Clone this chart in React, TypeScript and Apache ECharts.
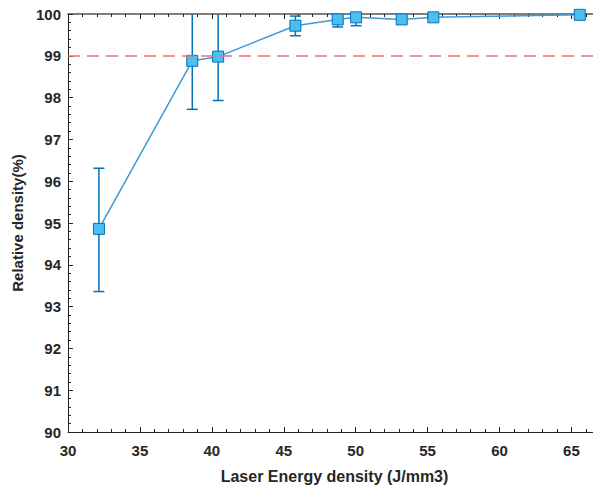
import React, { useEffect, useRef } from "react";
import * as echarts from "echarts";

const energy = [32.15, 38.64, 40.44, 45.81, 48.75, 50.03, 53.2, 55.4, 65.58];
const density = [94.86, 98.88, 98.98, 99.72, 99.87, 99.92, 99.87, 99.92, 99.98];
const lowerErr = [93.36, 97.72, 97.93, 99.48, 99.69, 99.72, 99.82, 99.87, 99.96];
const upperErr = [96.31, 100.04, 100.03, 99.95, 100.05, 100.1, 99.92, 99.97, 100.0];
const threshold = 99;

const xTitle = "Laser Energy density (J/mm3)";
const yTitle = "Relative density(%)";

const textColor = "#262626";
const font = "'Liberation Sans', Arial, Helvetica, sans-serif";

export default function App() {
  const ref = useRef<HTMLDivElement>(null);
  useEffect(() => {
    if (!ref.current) return;
    const chart = echarts.init(ref.current, null, { renderer: "svg" });
    const errData = energy.map((x, i) => [x, lowerErr[i], upperErr[i]]);
    const option = {
      animation: false,
      backgroundColor: "#ffffff",
      grid: { left: 68, top: 14, right: 0, bottom: 55, containLabel: false },
      xAxis: [
        {
          type: "value",
          min: 30,
          max: 66.5,
          interval: 5,
          position: "bottom",
          name: xTitle,
          nameLocation: "middle",
          nameGap: 36,
          nameTextStyle: { fontFamily: font, fontWeight: "bold", fontSize: 16, color: textColor, padding: [0, 0, 0, 8] },
          axisLine: { show: true, onZero: false, lineStyle: { color: textColor, width: 1 } },
          axisTick: { show: true, inside: true, length: 5, lineStyle: { color: textColor } },
          minorTick: { show: true, splitNumber: 5, length: 3, lineStyle: { color: textColor } },
          axisLabel: {
            fontFamily: font, fontWeight: "bold", fontSize: 15, color: textColor, margin: 11,
            showMaxLabel: false,
          },
          splitLine: { show: false },
        },
        {
          type: "value",
          min: 30,
          max: 66.5,
          interval: 5,
          position: "top",
          axisLine: { show: true, onZero: false, lineStyle: { color: "#555", width: 1.5 } },
          axisTick: { show: true, inside: true, length: 5, lineStyle: { color: textColor } },
          minorTick: { show: true, splitNumber: 5, length: 3, lineStyle: { color: textColor } },
          axisLabel: { show: false },
          splitLine: { show: false },
        },
      ],
      yAxis: {
        type: "value",
        min: 90,
        max: 100,
        interval: 1,
        name: yTitle,
        nameLocation: "middle",
        nameGap: 37,
        nameTextStyle: { fontFamily: font, fontWeight: "bold", fontSize: 15, color: textColor },
        axisLine: { show: true, onZero: false, lineStyle: { color: textColor, width: 1 } },
        axisTick: { show: true, inside: true, length: 5, lineStyle: { color: textColor } },
        minorTick: { show: true, splitNumber: 5, length: 3, lineStyle: { color: textColor } },
        axisLabel: { fontFamily: font, fontWeight: "bold", fontSize: 15, color: textColor, margin: 7 },
        splitLine: { show: false },
      },
      series: [
        {
          type: "custom",
          z: 2,
          clip: true,
          data: errData,
          renderItem: (params: any, api: any) => {
            const x = api.value(0);
            const lo = api.coord([x, api.value(1)]);
            const hi = api.coord([x, api.value(2)]);
            const cs = params.coordSys;
            const topY = cs.y;
            const botY = cs.y + cs.height;
            const cap = 5.5;
            const style = { stroke: "#0072BD", lineWidth: 1.5 };
            const y1 = Math.min(Math.max(hi[1], topY), botY);
            const y2 = Math.min(Math.max(lo[1], topY), botY);
            const children: any[] = [
              { type: "line", shape: { x1: lo[0], y1, x2: lo[0], y2 }, style },
            ];
            if (hi[1] >= topY) {
              children.push({ type: "line", shape: { x1: hi[0] - cap, y1: hi[1], x2: hi[0] + cap, y2: hi[1] }, style });
            }
            if (lo[1] <= botY) {
              children.push({ type: "line", shape: { x1: lo[0] - cap, y1: lo[1], x2: lo[0] + cap, y2: lo[1] }, style });
            }
            return { type: "group", children };
          },
        },
        {
          type: "line",
          z: 3,
          data: energy.map((x, i) => [x, density[i]]),
          symbol: "rect",
          symbolSize: 11,
          showSymbol: true,
          lineStyle: { color: "#3d9ad8", width: 1.5 },
          itemStyle: { color: "#4DBEEE", borderColor: "#0072BD", borderWidth: 1 },
          markLine: {
            silent: true,
            symbol: "none",
            label: { show: false },
            lineStyle: { color: "#f07070", type: [12, 7], width: 1.5 },
            data: [{ yAxis: threshold }],
          },
        },
      ],
    };
    chart.setOption(option as any);
    return () => chart.dispose();
  }, []);
  return (
    <div
      ref={ref}
      style={{ position: "fixed", left: 0, top: 0, width: 593, height: 489, background: "#fff" }}
    />
  );
}
